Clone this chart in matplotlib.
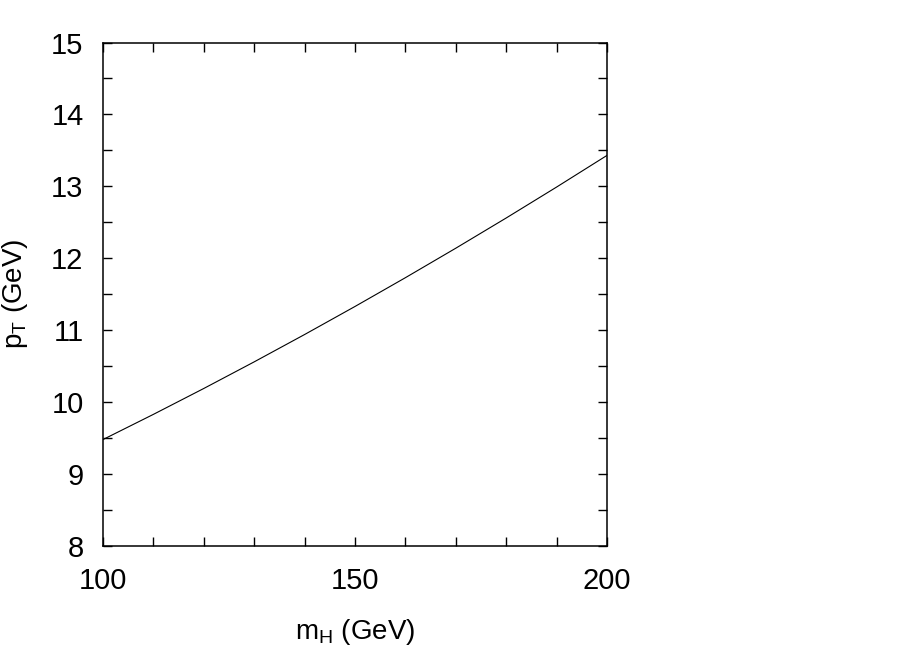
import matplotlib
matplotlib.use("Agg")
import matplotlib.pyplot as plt
import numpy as np

# Higgs mass (GeV) and pT value
m_h = np.array([100, 110, 120, 130, 140, 150, 160, 170, 180, 190, 200])
p_t = np.array([9.48, 9.83, 10.19, 10.56, 10.94, 11.33, 11.73, 12.14, 12.56, 12.99, 13.43])

x_labels = [100, 150, 200]
y_labels = [8, 9, 10, 11, 12, 13, 14, 15]

plt.rcParams["font.family"] = ["Liberation Sans", "DejaVu Sans"]
plt.rcParams["mathtext.fontset"] = "custom"
plt.rcParams["mathtext.rm"] = "Liberation Sans"
plt.rcParams["mathtext.it"] = "Liberation Sans"

fig = plt.figure(figsize=(9.22, 6.47), dpi=100)
ax = fig.add_axes([0.1117, 0.1561, 0.5466, 0.7782])

ax.plot(m_h, p_t, color="black", linewidth=0.8)

ax.set_xlim(100, 200)
ax.set_ylim(8, 15)
ax.set_xticks(x_labels)
ax.set_xticks(np.arange(100, 201, 10), minor=True)
ax.set_yticks(y_labels)
ax.set_yticks(np.arange(8, 15.01, 0.5), minor=True)

for which in ("major", "minor"):
    ax.tick_params(axis="both", which=which, direction="in", length=6.5, width=1.0,
                   top=True, right=True, color="black")
ax.tick_params(axis="y", which="major", labelsize=21, pad=14)
ax.tick_params(axis="x", which="major", labelsize=21, pad=15)

for spine in ax.spines.values():
    spine.set_linewidth(1.1)

ax.set_xlabel(r"m$_{\rm H}$ (GeV)", fontsize=20)
ax.set_ylabel(r"p$_{\rm T}$ (GeV)", fontsize=20)
ax.xaxis.set_label_coords(0.5, -0.141)
ax.yaxis.set_label_coords(-0.145, 0.5)

fig.savefig("out.png", dpi=100)
